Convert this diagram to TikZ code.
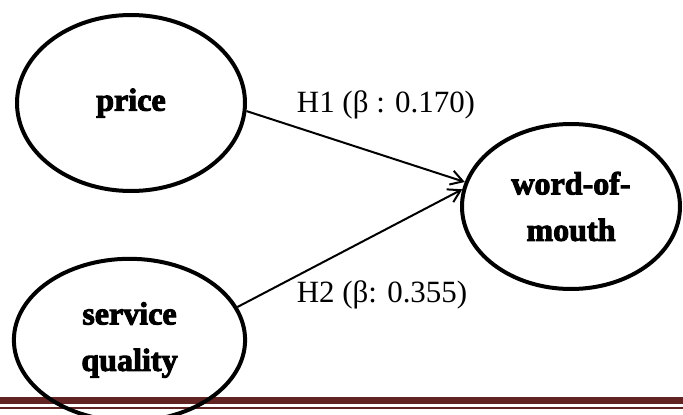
\documentclass[tikz,border=0pt]{standalone}
\usepackage{fontspec}
\setmainfont{Liberation Serif}
\newfontfamily\heavyfont[FakeBold=3]{Liberation Serif Bold}
\usetikzlibrary{arrows.meta,shapes.geometric}
\definecolor{rulered}{RGB}{98,36,35}

\begin{document}
\begin{tikzpicture}[>={Straight Barb[length=3mm,width=3.6mm]},
  construct/.style={draw,ellipse,line width=0.1cm,inner sep=0pt,align=center,
    font=\heavyfont\fontsize{22.8}{33}\selectfont},
  link/.style={->,line width=0.05cm},
  hyp/.style={font=\fontsize{22}{26}\selectfont}]
\useasboundingbox (0,0) rectangle (17.075,10.35);
% bottom rules
\draw[rulered,line width=0.175cm] (0,0.3375) -- (17.075,0.3375);
\draw[rulered,line width=0.05cm] (0,0.1625) -- (17.075,0.1625);
% constructs
\node[construct,minimum width=5.7cm,minimum height=4.4cm] (price) at (3.275,7.775) {price};
\node[construct,minimum width=5.78cm,minimum height=4.06cm] (quality) at (3.2375,1.85) {service\\quality};
\node[construct,minimum width=5.45cm,minimum height=4.125cm] (wom) at (14.275,5.1875) {word-of-\\mouth};
% paths
\draw[link] (price.-4) -- (wom.167);
\draw[link] (quality.17) -- (wom.171);
\node[hyp] (h1) at (9.65,7.725) {H1 (β : 0.170)};
\node[hyp] (h2) at (9.55,2.975) {H2 (β: 0.355)};
\end{tikzpicture}
\end{document}
